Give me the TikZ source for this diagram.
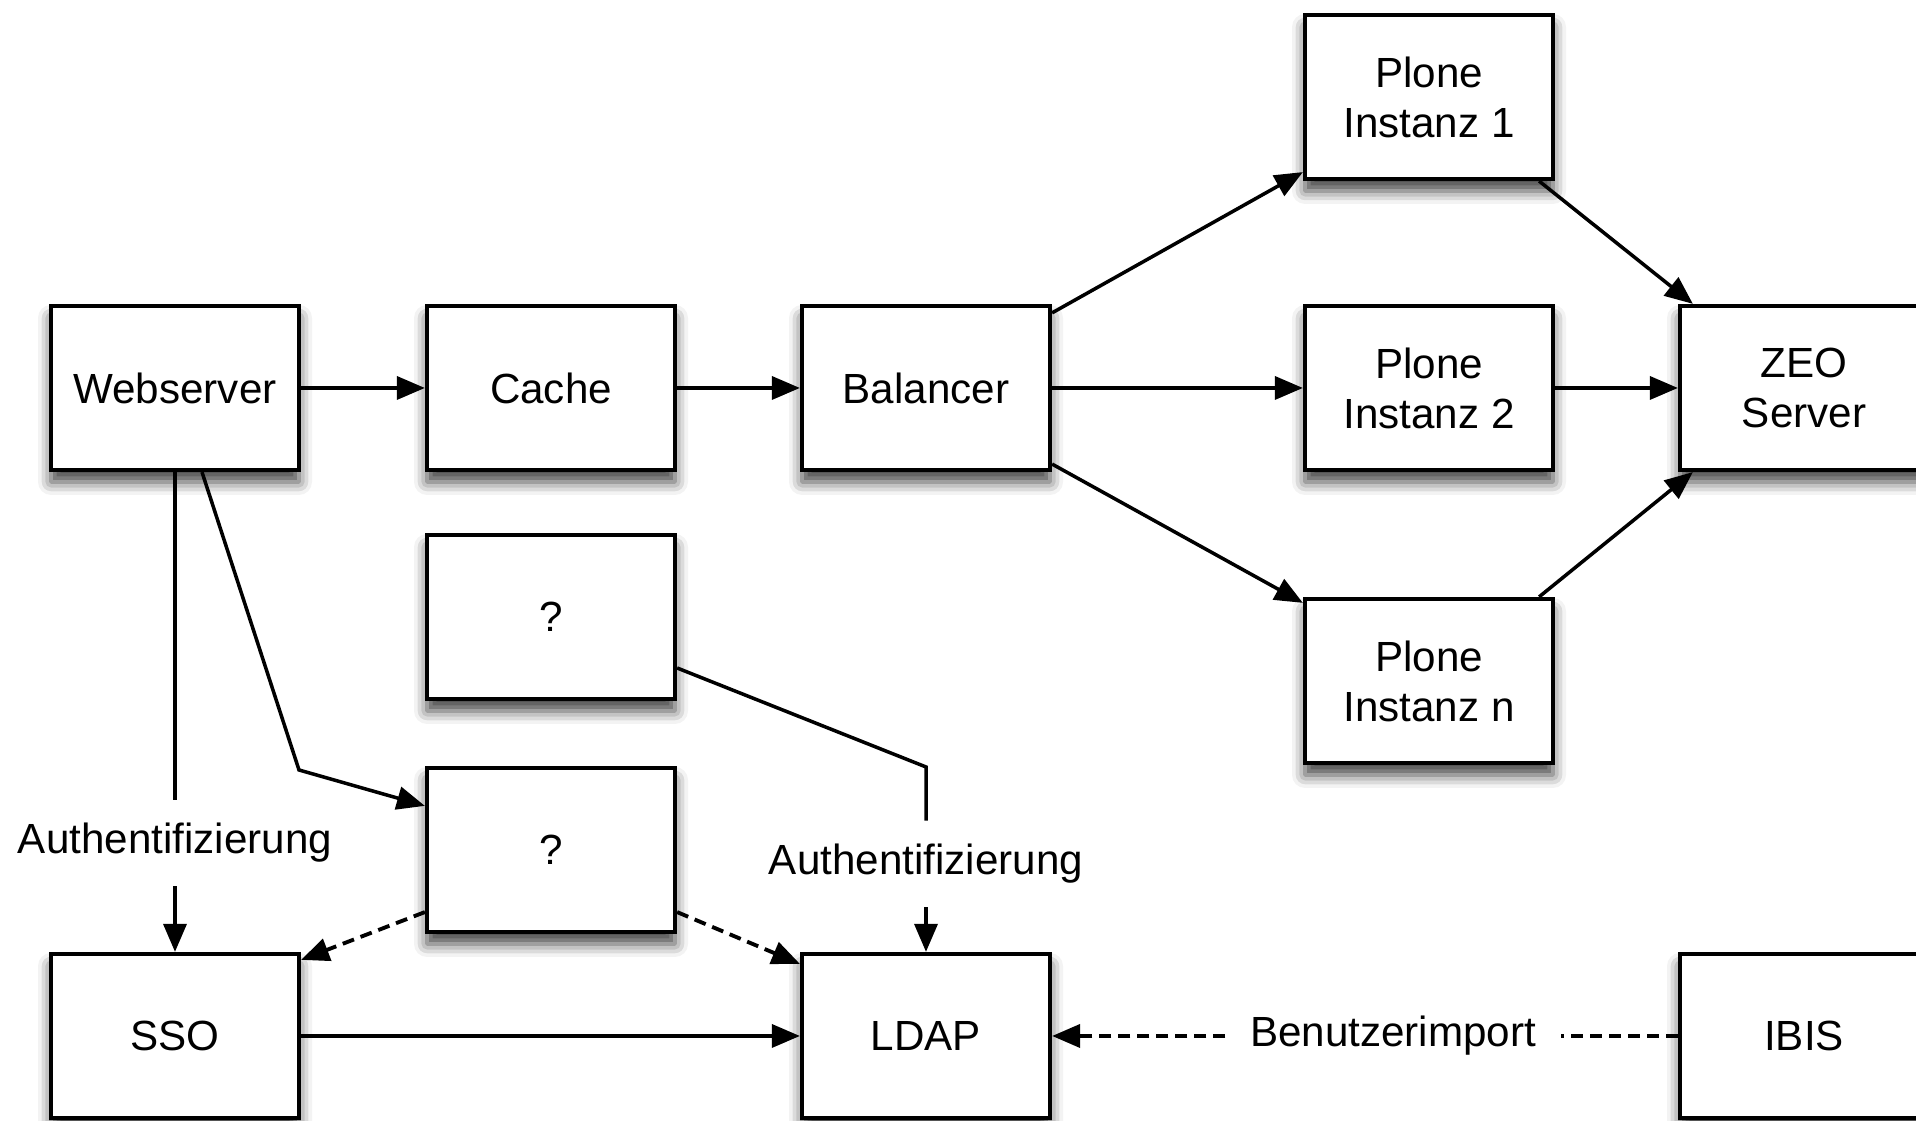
\documentclass[tikz,border=0pt]{standalone}
\usepackage{fontspec}
\setmainfont{Liberation Sans}
\usetikzlibrary{
	arrows.meta,
	shadows.blur
}

\begin{document}
\begin{tikzpicture}[
    box/.style={draw,line width=1.2pt,fill=white,minimum width=2.48cm,minimum height=1.64cm,align=center,
        blur shadow={shadow xshift=0pt,shadow yshift=-0.12cm,shadow blur radius=0.13cm,shadow opacity=75}},
    lab/.style={inner xsep=0.24cm,inner ysep=0.23cm},
    link/.style={line width=1pt},
    conn/.style={->,line width=1pt},
    dashlink/.style={line width=1.1pt,dash pattern=on 0.12cm off 0.07cm},
    >={Triangle[length=0.28cm,width=0.23cm]},
    font=\fontsize{12}{14.2}\selectfont
]
    \useasboundingbox (0,0) rectangle (19.16,11.21);
    % Definitions
    \coordinate (WS) at (1.75,7.33);
    \coordinate (CA) at (5.51,7.33);
    \coordinate (BA) at (9.26,7.33);
    \coordinate (P1) at (14.29,10.24);
    \coordinate (P2) at (14.29,7.33);
    \coordinate (PN) at (14.29,4.40);
    \coordinate (ZS) at (18.04,7.33);
    \coordinate (QT) at (5.51,5.04);
    \coordinate (QB) at (5.51,2.71);
    \coordinate (SS) at (1.75,0.85);
    \coordinate (LD) at (9.26,0.85);
    \coordinate (IB) at (18.04,0.85);
    \coordinate (AL) at (1.75,2.78);
    \coordinate (AR) at (9.26,2.57);
    \coordinate (BI) at (13.93,0.85);
    \coordinate (WQ) at (2.99,3.51);
    \coordinate (QL) at (9.26,3.54);
    % Nodes
    \node(Webs)  at (WS) [box] {Webserver};
    \node(Cach)  at (CA) [box] {Cache};
    \node(Bala)  at (BA) [box] {Balancer};
    \node(PlIn1) at (P1) [box] {Plone\\Instanz 1};
    \node(PlIn2) at (P2) [box] {Plone\\Instanz 2};
    \node(PlInN) at (PN) [box] {Plone\\Instanz n};
    \node(ZeSe)  at (ZS) [box] {ZEO\\Server};
    \node(QuTo)  at (QT) [box] {?};
    \node(QuBo)  at (QB) [box] {?};
    \node(SSO)   at (SS) [box] {SSO};
    \node(LDAP)  at (LD) [box] {LDAP};
    \node(IBIS)  at (IB) [box] {IBIS};
    \node(AuLe)  at (AL) [lab] {Authentifizierung};
    \node(AuRi)  at (AR) [lab] {Authentifizierung};
    \node(BeIm)  at (BI) [lab] {Benutzerimport};
    % Arrows
    \draw[conn] (Webs) -- (Cach);
    \draw[conn] (Cach) -- (Bala);
    \draw[conn] ([yshift=-0.09cm]Bala.north east) -- ([yshift=0.09cm]PlIn1.south west);
    \draw[conn] (Bala) -- (PlIn2);
    \draw[conn] ([yshift=0.08cm]Bala.south east) -- ([yshift=-0.06cm]PlInN.north west);
    \draw[conn] ([xshift=-0.16cm]PlIn1.south east) -- ([xshift=0.15cm]ZeSe.north west);
    \draw[conn] (PlIn2) -- (ZeSe);
    \draw[conn] ([xshift=-0.16cm]PlInN.north east) -- ([xshift=0.15cm]ZeSe.south west);
    \draw[link] (Webs) -- (AuLe);
    \draw[conn] (AuLe) -- (SSO);
    \draw[conn] ([xshift=0.27cm]Webs.south) -- (WQ) -- ([yshift=-0.4cm]QuBo.north west);
    \draw[link] ([yshift=-0.51cm]QuTo.east) -- (QL) -- (AuRi);
    \draw[conn] (AuRi) -- (LDAP);
    \draw[dashlink,->] ([yshift=0.22cm]QuBo.south west) -- ([yshift=-0.08cm]SSO.north east);
    \draw[dashlink,->] ([yshift=0.22cm]QuBo.south east) -- ([yshift=-0.12cm]LDAP.north west);
    \draw[conn] (SSO) -- (LDAP);
    \draw[dashlink] (IBIS) -- (BeIm);
    \draw[dashlink,->] (BeIm) -- (LDAP);
\end{tikzpicture}
\end{document}
